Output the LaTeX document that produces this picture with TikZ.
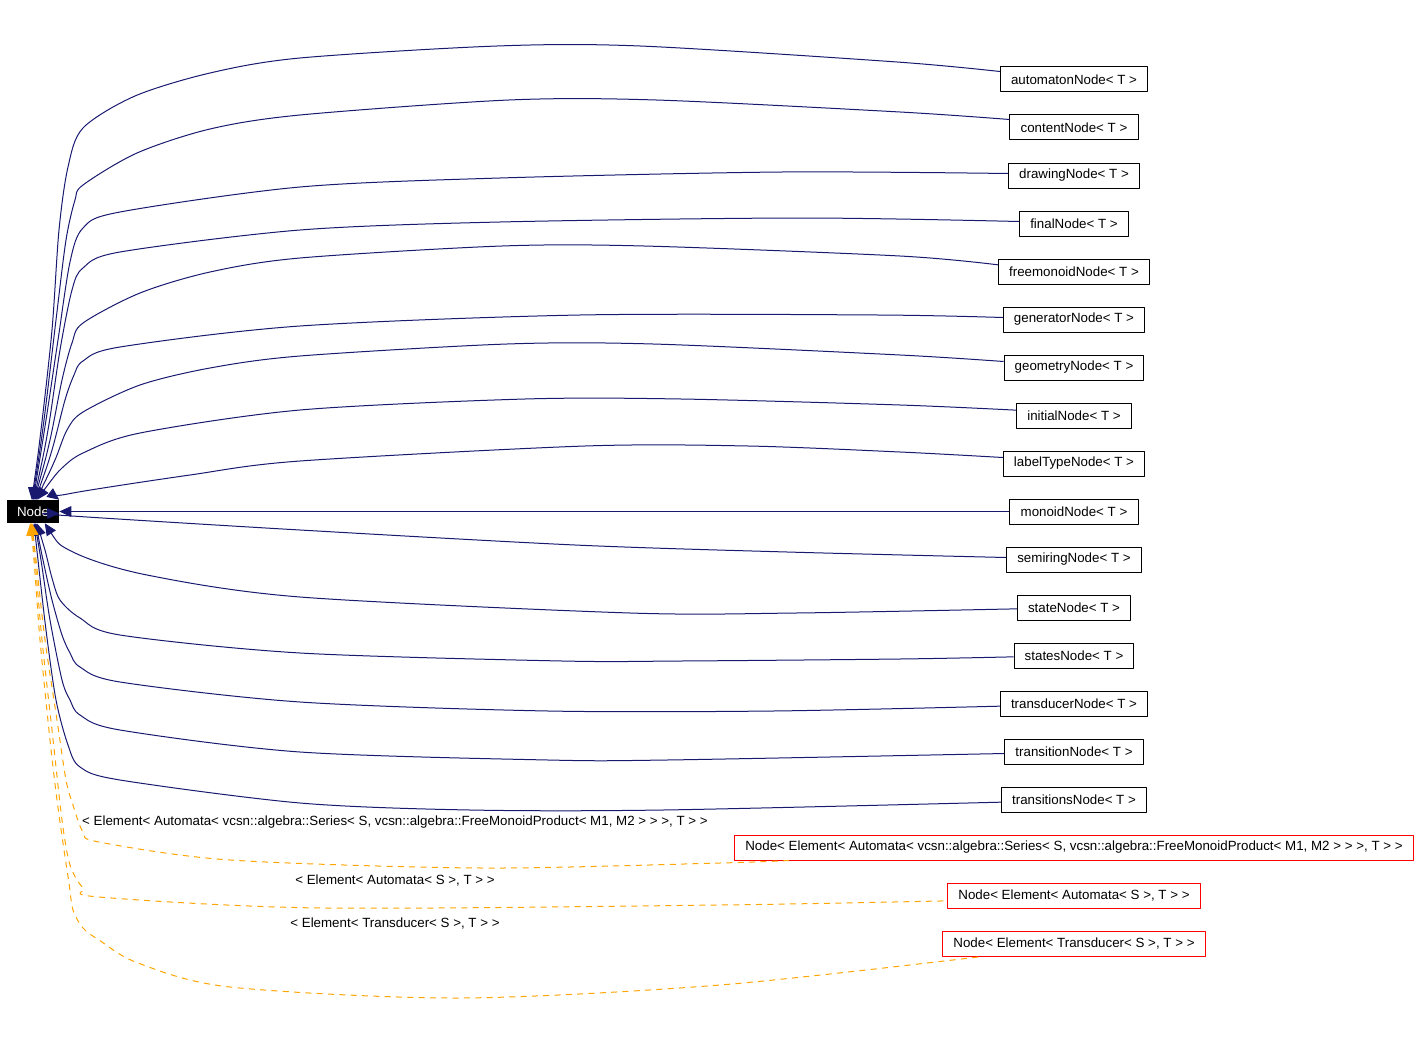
\documentclass[tikz,border=0pt]{standalone}
\usepackage{fontspec}
\setmainfont{Liberation Sans}
\usetikzlibrary{arrows.meta}
\definecolor{midnightblue}{HTML}{191970}
\definecolor{dotorange}{HTML}{FFA500}
\tikzset{
  cls/.style={draw=black, line width=0.75pt, minimum height=18.75pt, inner xsep=8pt, inner ysep=0pt, font=\fontsize{10}{12}\selectfont},
  tmpl/.style={cls, draw=red},
  inh/.style={midnightblue, line width=0.75pt, {Triangle[length=9pt,width=8pt]}-},
  tinst/.style={dotorange, line width=0.75pt, dash pattern=on 4.5pt off 4pt, {Triangle[length=9pt,width=8pt]}-},
  lbl/.style={font=\fontsize{10}{12}\selectfont, inner sep=0pt},
}
\begin{document}
\begin{tikzpicture}[x=0.75pt,y=-0.75pt,line join=round]
\useasboundingbox (0,0) rectangle (1419,1052);
% base class
\node[fill=black, text=white, minimum width=39pt, minimum height=17.25pt, inner sep=0pt, font=\fontsize{10}{12}\selectfont] (Node) at (33,511.5) {Node};
% derived classes
\foreach \n/\t/\y in {n1/automatonNode/79.5, n2/contentNode/127.5, n3/drawingNode/175.5, n4/finalNode/223.5,
  n5/freemonoidNode/271.5, n6/generatorNode/319.5, n7/geometryNode/367.5, n8/initialNode/415.5,
  n9/labelTypeNode/463.5, n10/monoidNode/511.5, n11/semiringNode/559.5, n12/stateNode/607.5,
  n13/statesNode/655.5, n14/transducerNode/703.5, n15/transitionNode/751.5, n16/transitionsNode/799.5}{
  \node[cls] (\n) at (1074,\y) {\t< T >};
}
% template instances
\node[tmpl] (N17) at (1074,847.5) {Node< Element< Automata< vcsn::algebra::Series< S, vcsn::algebra::FreeMonoidProduct< M1, M2 > > >, T > >};
\node[tmpl] (N18) at (1074,895.5) {Node< Element< Automata< S >, T > >};
\node[tmpl] (N19) at (1074,943.5) {Node< Element< Transducer< S >, T > >};
% inheritance above
\draw[inh] plot[smooth] coordinates {(Node.96) (41,430) (52,330) (59,230) (68,167) (83,128) (135,96) (210,73) (300,58) (497,46) (640,46) (897,62) ([yshift=6pt]n1.west)};
\draw[inh] plot[smooth] coordinates {(Node.93) (44,420) (56,320) (66,240) (75,200) (83,185) (137,153) (210,129) (300,115) (509,100) (656,100) (900,112) ([yshift=6pt]n2.west)};
\draw[inh] plot[smooth] coordinates {(Node.89) (46,420) (58,340) (70,262) (83,228) (120,212) (300,187) (500,178) (782,172) ([yshift=1.5pt]n3.west)};
\draw[inh] plot[smooth] coordinates {(Node.86) (48,430) (60,350) (72,290) (83,268) (120,252) (300,230) (500,222) (800,218) ([yshift=1.5pt]n4.west)};
\draw[inh] plot[smooth] coordinates {(Node.83) (50,440) (62,380) (72,343) (83,323) (140,293) (210,272) (300,258) (502,246) (644,246) (900,256) ([yshift=5pt]n5.west)};
\draw[inh] plot[smooth] coordinates {(Node.79) (52,450) (65,400) (74,375) (83,361) (120,347) (300,326) (580,315) (878,315) ([yshift=1.5pt]n6.west)};
\draw[inh] plot[smooth] coordinates {(Node.75) (55,460) (67,430) (83,412) (140,385) (210,368) (300,356) (507,344) (653,344) (900,355) ([yshift=4.5pt]n7.west)};
\draw[inh] plot[smooth] coordinates {(Node.70) (50,482) (62,468) (83,453) (140,433) (300,410) (525,399) (681,399) (900,405) ([yshift=4pt]n8.west)};
\draw[inh] plot[smooth] coordinates {(Node.north east) (73,493) (190,475) (300,461) (585,446) (748,446) (900,452) ([yshift=4.5pt]n9.west)};
\draw[inh] (Node.east) -- (n10.west);
\draw[inh] plot[smooth] coordinates {(Node.-4) (72,516) (300,530) (575,545) (787,552) ([yshift=1.5pt]n11.west)};
% inheritance below
\draw[inh] plot[smooth] coordinates {(Node.-45) (73,552) (147,575) (300,597) (630,613) (796,613) ([yshift=-1pt]n12.west)};
\draw[inh] plot[smooth] coordinates {(Node.-72) (45,550) (52,578) (60,600) (80,618) (120,635) (300,653) (562,661) (681,661) (900,659) ([yshift=-1pt]n13.west)};
\draw[inh] plot[smooth] coordinates {(Node.-77) (43,560) (52,600) (62,635) (70,653) (80,667) (120,682) (300,702) (548,711) (773,711) ([yshift=-2pt]n14.west)};
\draw[inh] plot[smooth] coordinates {(Node.-81) (41,560) (50,620) (62,680) (70,700) (80,715) (120,730) (300,752) (548,760) (667,760) ([yshift=-1.5pt]n15.west)};
\draw[inh] plot[smooth] coordinates {(Node.-85) (38,560) (46,630) (56,700) (68,745) (80,767) (120,780) (300,803) (470,810) (663,810) ([yshift=-2pt]n16.west)};
% template arguments
\draw[tinst] plot[smooth] coordinates {(Node.-95) (36,560) (45,640) (57,720) (66,780) (73,805) (83,832) (99,842) (230,860) (482,868) (720,863) ([xshift=41pt]N17.south west)};
\draw[tinst] plot[smooth] coordinates {(Node.-99) (35,560) (42,640) (52,730) (62,820) (70,865) (83,888) (99,897) (321,908) (720,905) ([yshift=-4pt]N18.west)};
\draw[tinst] plot[smooth] coordinates {(Node.-103) (34,560) (40,640) (50,740) (57,800) (64,850) (69,883) (73,910) (83,928) (99,940) (138,963) (230,987) (459,998) (720,985) ([xshift=30pt]N19.south west)};
\node[lbl] (l17) at (395,822.5) {< Element< Automata< vcsn::algebra::Series< S, vcsn::algebra::FreeMonoidProduct< M1, M2 > > >, T > >};
\node[lbl] (l18) at (395,880.5) {< Element< Automata< S >, T > >};
\node[lbl] (l19) at (395,923.5) {< Element< Transducer< S >, T > >};
\end{tikzpicture}
\end{document}
